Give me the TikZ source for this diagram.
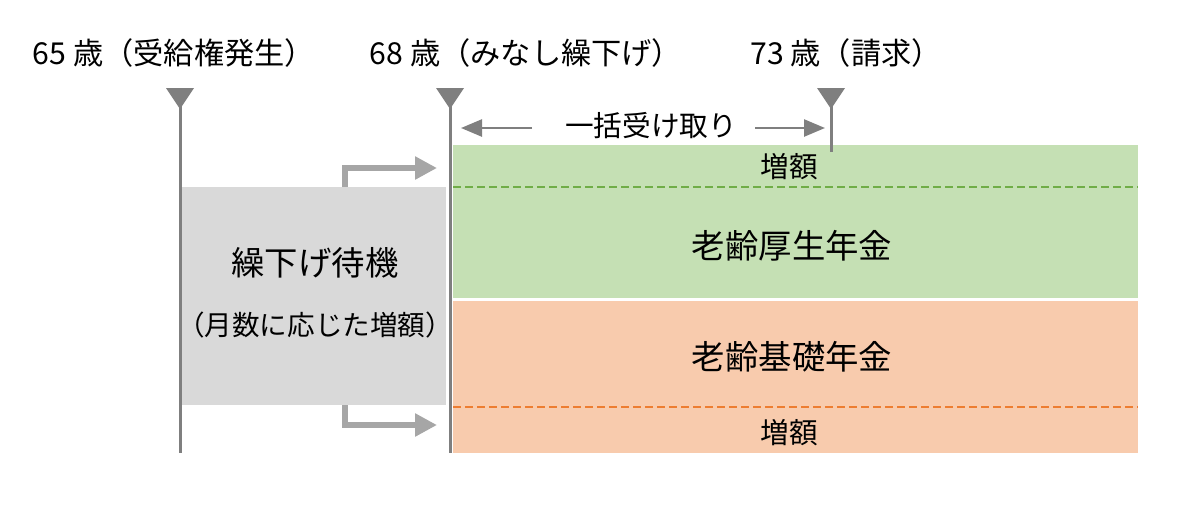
\documentclass[tikz,border=0pt]{standalone}
\usepackage{fontspec}
\setmainfont{Noto Sans CJK JP}
\usetikzlibrary{arrows.meta}
\definecolor{tlgrey}{HTML}{7F7F7F}
\definecolor{argrey}{HTML}{A6A6A6}
\definecolor{boxgrey}{HTML}{D9D9D9}
\definecolor{gfill}{HTML}{C5E0B4}
\definecolor{gdash}{HTML}{70AD47}
\definecolor{ofill}{HTML}{F8CBAD}
\definecolor{odash}{HTML}{ED7D31}
\tikzset{
  tline/.style={draw=tlgrey, line width=3*0.02cm},
  trimark/.style={fill=tlgrey},
  bentarrow/.style={draw=argrey, line width=6*0.02cm, -{Triangle[length=22*0.02cm, width=22*0.02cm]}},
  spanarrow/.style={draw=tlgrey, line width=2.5*0.02cm, -{Triangle[length=21*0.02cm, width=17*0.02cm]}},
  dashg/.style={draw=gdash, line width=2.6*0.02cm, dash pattern=on 8*0.02cm off 4*0.02cm},
  dasho/.style={draw=odash, line width=2.6*0.02cm, dash pattern=on 8*0.02cm off 4*0.02cm},
  toplbl/.style={inner sep=0pt, font=\fontsize{17.2}{20}\selectfont},
  lbl/.style={inner sep=0pt, font=\fontsize{16.3}{19}\selectfont},
  bigtxt/.style={inner sep=0pt, font=\fontsize{19}{23}\selectfont},
  smalltxt/.style={inner sep=0pt, font=\fontsize{15.7}{18}\selectfont},
}
\begin{document}
\begin{tikzpicture}[x=0.02cm, y=-0.02cm]
\useasboundingbox (0,0) rectangle (1200,505);
% regions
\fill[gfill] (453,145) rectangle (1138,298);
\fill[ofill] (453,301) rectangle (1138,453);
\fill[boxgrey] (182,187) rectangle (446,405);
\draw[dashg] (453,187) -- (1138,187);
\draw[dasho] (453,407) -- (1138,407);
% timelines
\coordinate (a65) at (180,100);
\coordinate (b65) at (180,453);
\coordinate (a68) at (450,100);
\coordinate (b68) at (450,453);
\coordinate (a73) at (831,100);
\coordinate (b73) at (831,152);
\draw[tline] (a65) -- (b65);
\draw[tline] (a68) -- (b68);
\draw[tline] (a73) -- (b73);
\fill[trimark] (166,88) -- (194,88) -- (180,109) -- cycle;
\fill[trimark] (436,88) -- (464,88) -- (450,109) -- cycle;
\fill[trimark] (817,88) -- (845,88) -- (831,109) -- cycle;
% top labels
\node[toplbl] (l65) at (174,53) {65 歳（受給権発生）};
\node[toplbl] (l68) at (526,53) {68 歳（みなし繰下げ）};
\node[toplbl] (l73) at (846,53) {73 歳（請求）};
% span
\node[lbl] (lump) at (651,126) {一括受け取り};
\coordinate (sl1) at (532,128);
\coordinate (sl2) at (461,128);
\coordinate (sr1) at (755,128);
\coordinate (sr2) at (825,128);
\draw[spanarrow] (sl1) -- (sl2);
\draw[spanarrow] (sr1) -- (sr2);
% region texts
\node[lbl] (inc1) at (789,167) {増額};
\node[bigtxt] (kosei) at (792,246) {老齢厚生年金};
\node[bigtxt] (kiso) at (792,357) {老齢基礎年金};
\node[lbl] (inc2) at (789,433) {増額};
\node[bigtxt] (wait) at (315,263) {繰下げ待機};
\node[smalltxt] (waitsub) at (315,325) {（月数に応じた増額）};
% bent arrows
\coordinate (u0) at (345,187);
\coordinate (u1) at (345,168);
\coordinate (u2) at (437,168);
\coordinate (d0) at (345,405);
\coordinate (d1) at (345,425);
\coordinate (d2) at (437,425);
\draw[bentarrow] (u0) -- (u1) -- (u2);
\draw[bentarrow] (d0) -- (d1) -- (d2);
\end{tikzpicture}
\end{document}
